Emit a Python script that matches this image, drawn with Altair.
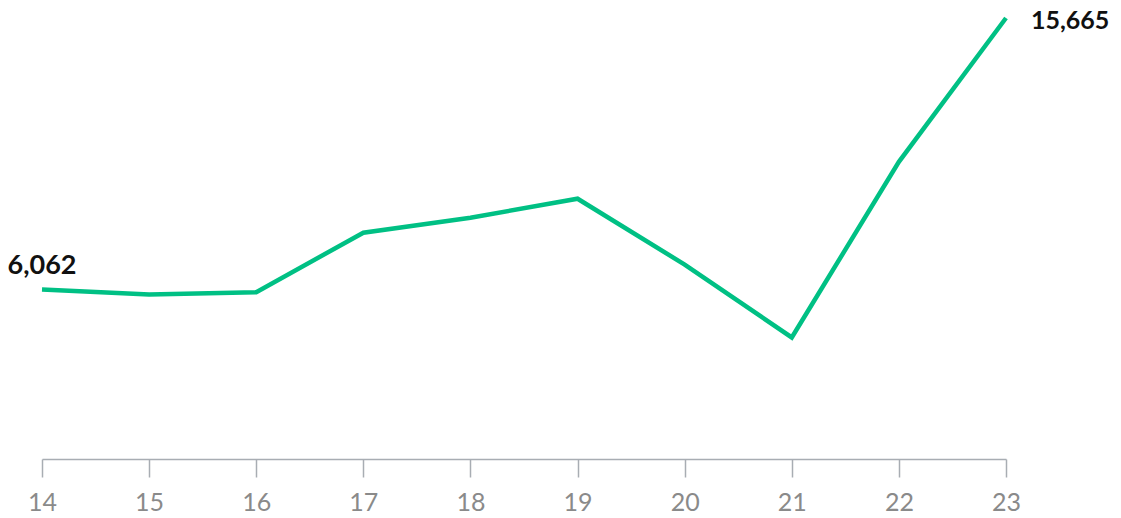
import altair as alt
import pandas as pd

years = [14, 15, 16, 17, 18, 19, 20, 21, 22, 23]
values = [6062, 5890, 5970, 8074, 8604, 9274, 6945, 4368, 10580, 15665]

label_years = [14, 23]
label_values = [6062, 15665]
label_texts = ["6,062", "15,665"]

df = pd.DataFrame({"year": years, "value": values})
df_first = pd.DataFrame({"year": [label_years[0]], "value": [label_values[0]], "text": [label_texts[0]]})
df_last = pd.DataFrame({"year": [label_years[1]], "value": [label_values[1]], "text": [label_texts[1]]})

x = alt.X("year:Q", scale=alt.Scale(domain=[14, 23], nice=False, zero=False),
          axis=alt.Axis(values=years, format="d", title=None, grid=False,
                        domainColor="#a8adb3", tickColor="#a8adb3", tickSize=18,
                        domainWidth=1.5, tickWidth=1.5, offset=-2,
                        labelColor="#8a8a8a", labelFontSize=25, labelFont="Lato",
                        labelFlush=False, labelOverlap=False, labelBound=False,
                        labelPadding=13))
y = alt.Y("value:Q", scale=alt.Scale(domain=[0, 15665], nice=False), axis=None)

line = alt.Chart(df).mark_line(color="#00c084", strokeWidth=4.5, strokeJoin="miter").encode(x=x, y=y)

t1 = alt.Chart(df_first).mark_text(font="Lato", fontWeight="bold", fontSize=27, color="#111111",
                                   align="center", baseline="alphabetic", dy=-16).encode(
    x="year:Q", y="value:Q", text="text:N")
t2 = alt.Chart(df_last).mark_text(font="Lato", fontWeight="bold", fontSize=25, color="#111111",
                                  align="left", baseline="alphabetic", dx=25, dy=11).encode(
    x="year:Q", y="value:Q", text="text:N")

chart = alt.layer(line, t1, t2).properties(
    width=964, height=443,
    autosize=alt.AutoSizeParams(type="none"),
    padding={"left": 34, "top": 10, "right": 107, "bottom": 57},
).configure_view(stroke=None)

chart.save("out.html", embed_options={"renderer": "svg", "actions": False})
